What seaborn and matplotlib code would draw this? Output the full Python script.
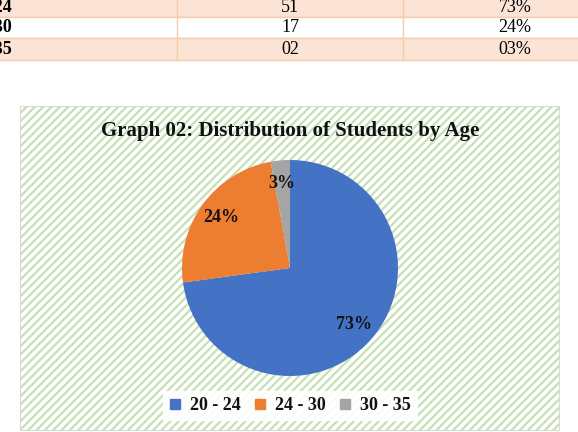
import matplotlib
matplotlib.use("Agg")
import matplotlib.pyplot as plt
from matplotlib.patches import Rectangle
from matplotlib.lines import Line2D
import seaborn as sns

# ---- data ----
age_groups = ["20 - 24", "24 - 30", "30 - 35"]
counts = [51, 17, 2]
table_counts = ["51", "17", "02"]
table_pcts = ["73%", "24%", "03%"]
title = "Graph 02: Distribution of Students by Age"

sns.set_theme(style="white")
plt.rcParams["font.family"] = ["Liberation Serif", "DejaVu Serif"]
plt.rcParams["hatch.linewidth"] = 1.6

colors = sns.color_palette(["#4472C4", "#ED7D31", "#A5A5A5"])

W, H = 578, 432
fig = plt.figure(figsize=(W / 100, H / 100), dpi=100)
fig.patch.set_facecolor("white")

def fx(x):
    return x / W

def fy(y):
    return 1 - y / H

# ---- table fragment at top ----
row_tops = [-5, 17, 38]
row_bots = [17, 38, 60]
row_fill = ["#FBE4D5", "white", "#FBE4D5"]
border = "#F7CAAC"
for i in range(3):
    fig.patches.append(Rectangle((fx(-2), fy(row_bots[i])), fx(W + 4), (row_bots[i] - row_tops[i]) / H,
                                 transform=fig.transFigure, facecolor=row_fill[i],
                                 edgecolor=border, linewidth=1.0))
for xline in [177, 403]:
    fig.add_artist(Line2D([fx(xline), fx(xline)], [fy(-5), fy(60)], transform=fig.transFigure,
                          color=border, linewidth=1.0))
row_centers = [7, 28, 50]
for i in range(3):
    fig.text(fx(12), fy(row_centers[i]), age_groups[i], ha="right", va="center",
             fontsize=13, fontweight="bold", color="black")
    fig.text(fx(290), fy(row_centers[i]), table_counts[i], ha="center", va="center",
             fontsize=13, color="black")
    fig.text(fx(515), fy(row_centers[i]), table_pcts[i], ha="center", va="center",
             fontsize=13, color="black")

# ---- chart area with hatched background ----
cx0, cy0, cx1, cy1 = 20, 106, 559, 430
fig.patches.append(Rectangle((fx(cx0), fy(cy1)), (cx1 - cx0) / W, (cy1 - cy0) / H,
                             transform=fig.transFigure, facecolor="white",
                             edgecolor="#C5E0B4", hatch="////", linewidth=0))
fig.patches.append(Rectangle((fx(cx0), fy(cy1)), (cx1 - cx0) / W, (cy1 - cy0) / H,
                             transform=fig.transFigure, facecolor="none",
                             edgecolor="#D9D9D9", linewidth=0.8))

fig.text(fx(290), fy(131), title, ha="center", va="center", fontsize=15,
         fontweight="bold", color="#111111")

# ---- pie ----
pcx, pcy, r = 290, 268, 108
ax = fig.add_axes([fx(pcx - r), fy(pcy + r), 2 * r / W, 2 * r / H])
ax.set_zorder(3)
wedges, texts, autotexts = ax.pie(counts, colors=colors, startangle=90, counterclock=False,
                                  autopct="%.0f%%", pctdistance=0.79,
                                  wedgeprops=dict(linewidth=0))
for t in autotexts:
    t.set_fontsize(13)
    t.set_fontweight("bold")
    t.set_color("#111111")
ax.set_xlim(-1, 1)
ax.set_ylim(-1, 1)
ax.set_aspect("equal")
ax.axis("off")

# ---- legend ----
handles = [Line2D([], [], marker="s", linestyle="none", markersize=7,
                  markerfacecolor=c, markeredgecolor=c) for c in colors]
leg = fig.legend(handles, age_groups, loc="center", bbox_to_anchor=(fx(290), fy(405.5)),
                 ncol=3, frameon=True, fancybox=False, handlelength=0.6, handletextpad=0.5,
                 columnspacing=0.8, borderpad=0.35, prop=dict(size=13, weight="bold"))
leg.set_zorder(5)
leg.get_frame().set_facecolor("white")
leg.get_frame().set_edgecolor("white")
leg.get_frame().set_alpha(0.9)
for t in leg.get_texts():
    t.set_color("#111111")

fig.savefig("out.png", dpi=100)
